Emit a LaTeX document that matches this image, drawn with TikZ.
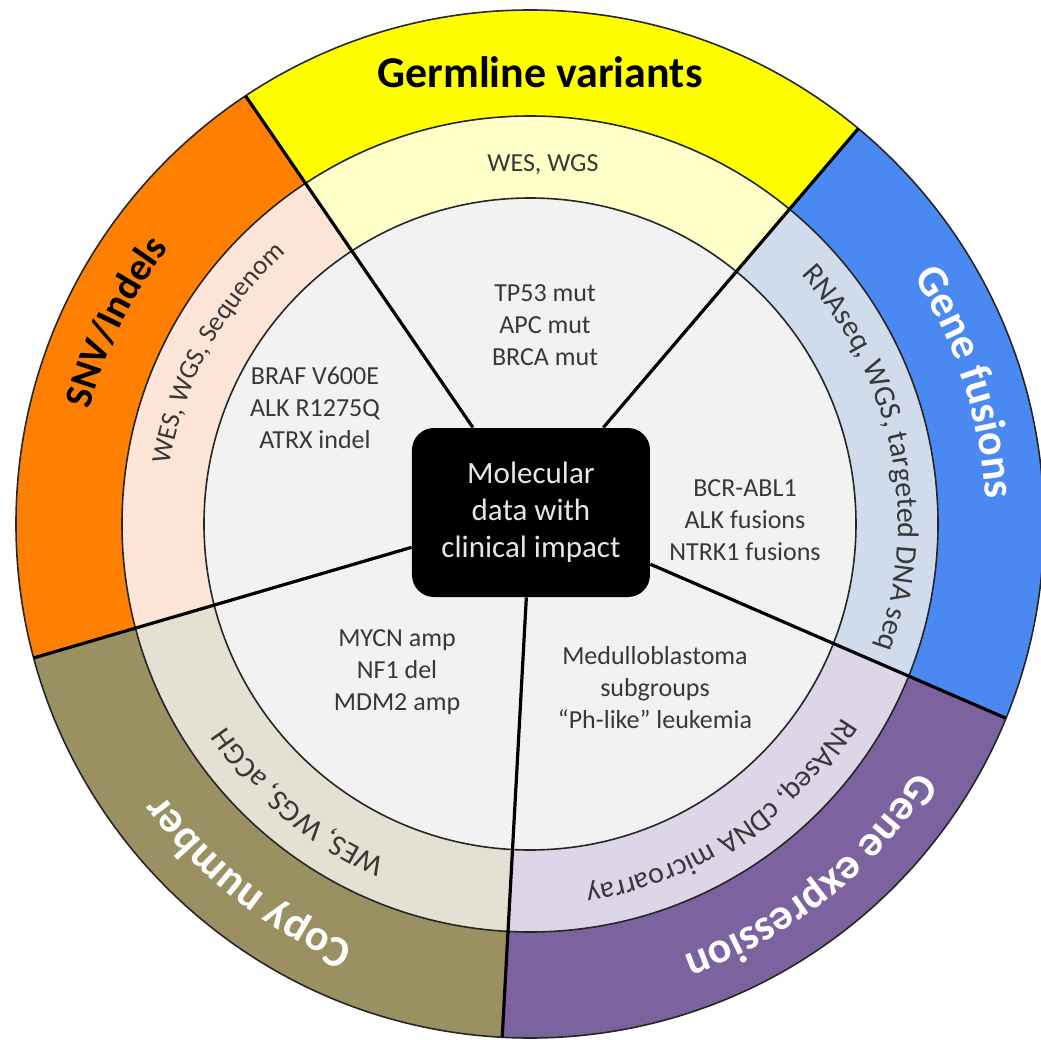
\documentclass[tikz,border=0pt]{standalone}
\usepackage{fontspec}
\setmainfont{Carlito}
\usetikzlibrary{calc,decorations.text}
\definecolor{cgerm}{HTML}{FFFF00}
\definecolor{cgermL}{HTML}{FFFFC8}
\definecolor{csnv}{HTML}{FF8000}
\definecolor{csnvL}{HTML}{FCE4D6}
\definecolor{cfus}{HTML}{4A88F2}
\definecolor{cfusL}{HTML}{D0DCEC}
\definecolor{cexpr}{HTML}{7D62A0}
\definecolor{cexprL}{HTML}{DDD5E8}
\definecolor{ccopy}{HTML}{9A9062}
\definecolor{ccopyL}{HTML}{E4E1D2}
\definecolor{cinner}{HTML}{F2F2F2}
\definecolor{ctext}{HTML}{383838}
\definecolor{cboxtext}{HTML}{E6E6E6}
\newcommand\arctext[6]{%
  \path[decorate,decoration={text along path,text={|#3|#4},text align=center,text color=#5}]
    ({#1+#6}:#2) arc[start angle={#1+#6}, end angle={#1-#6}, radius=#2];}
\begin{document}
\begin{tikzpicture}[x=0.5pt,y=0.5pt,
  ringline/.style={draw=black!85,line width=0.8pt},
  spoke/.style={draw=black,line width=1.6pt},
  box/.style={fill=black,rounded corners=11pt,minimum width=119pt,minimum height=84.5pt,
    inner sep=0pt,align=center,text=cboxtext,font=\fontsize{15.5}{18.5}\selectfont},
  innertext/.style={align=center,text=ctext,inner sep=0pt,font=\fontsize{13}{16}\selectfont},
  midtext/.style={align=center,text=ctext,inner sep=0pt,font=\fontsize{13}{16}\selectfont},
  outertext/.style={align=center,inner sep=0pt,font=\fontsize{22}{26}\selectfont\bfseries}]
\useasboundingbox (-530,-516) rectangle (511,524);
\fill[white] (-530,-516) rectangle (511,524);
\coordinate (cc) at (1,11.5);
\coordinate (o1) at (123.6:514);
\coordinate (o2) at (50.3:514);
\coordinate (o3) at (-22.2:514);
\coordinate (o4) at (-93.1:514);
\coordinate (o5) at (195.1:514);
\foreach \a/\b/\co/\ci in {o2/o1/cgerm/cgermL, o1/o5/csnv/csnvL, o5/o4/ccopy/ccopyL, o4/o3/cexpr/cexprL, o3/o2/cfus/cfusL}{
  \begin{scope}
    \clip (cc) -- ($(cc)!2!(\a)$) -- ($(cc)!2!(\b)$) -- cycle;
    \fill[\co] (0,0) circle[radius=514];
    \fill[\ci] (0,0) circle[radius=408];
  \end{scope}
}
\fill[cinner] (0,0) circle[radius=326];
\draw[ringline] (0,0) circle[radius=514];
\draw[ringline] (0,0) circle[radius=408];
\draw[ringline] (0,0) circle[radius=326];
\node[box] (c) at (cc) {Molecular\\data with\\clinical impact};
\foreach \o in {o1,o2,o3,o4,o5} \draw[spoke] (c) -- (\o);
% inner texts
\node[innertext] (t1) at (15,199) {TP53 mut\\APC mut\\BRCA mut};
\node[innertext] (t2) at (-215,116) {BRAF V600E\\ALK R1275Q\\ATRX indel};
\node[innertext] (t3) at (215,4) {BCR-ABL1\\ALK fusions\\NTRK1 fusions};
\node[innertext] (t4) at (-133,-148) {MYCN amp\\NF1 del\\MDM2 amp};
\node[innertext] (t5) at (125,-164) {Medulloblastoma\\subgroups\\“Ph-like” leukemia};
% middle band
\node[midtext] (m1) at (13,359) {WES, WGS};
\arctext{151.3}{365}{\fontsize{13.5}{16}\selectfont}{WES, WGS, Sequenom}{ctext}{40}
\arctext{11.5}{368}{\fontsize{15}{16}\selectfont}{RNAseq, WGS, targeted DNA seq}{ctext}{40}
\arctext{-56.5}{367}{\fontsize{15}{16}\selectfont}{RNAseq, cDNA microarray}{ctext}{40}
\arctext{230.2}{365}{\fontsize{15}{16}\selectfont}{WES, WGS, aCGH}{ctext}{40}
% outer band
\node[outertext] (g1) at (10,452) {Germline variants};
\arctext{154}{455}{\fontsize{19.5}{26}\selectfont\bfseries}{SNV/Indels}{black}{30}
\arctext{18}{456}{\fontsize{22}{26}\selectfont\bfseries}{Gene fusions}{white}{30}
\arctext{-51.5}{458}{\fontsize{22}{26}\selectfont\bfseries}{Gene expression}{white}{30}
\arctext{231.8}{456}{\fontsize{22}{26}\selectfont\bfseries}{Copy number}{white}{30}
\end{tikzpicture}
\end{document}
